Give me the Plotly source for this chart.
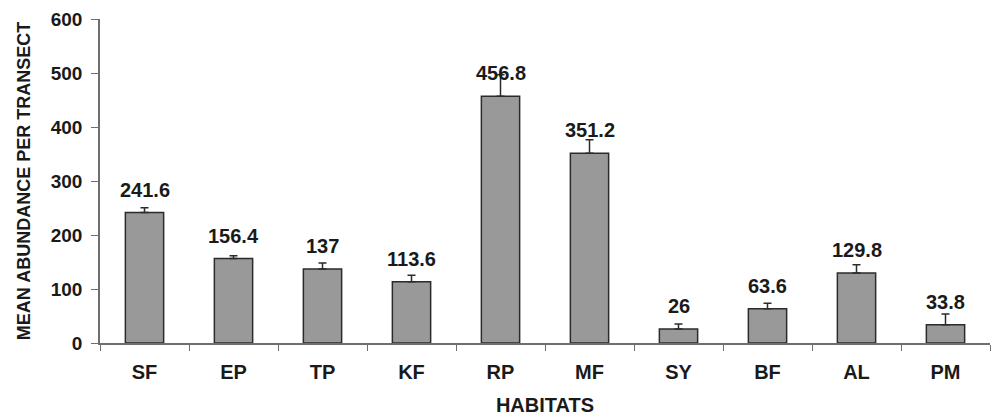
import plotly.graph_objects as go

habitats = ["SF", "EP", "TP", "KF", "RP", "MF", "SY", "BF", "AL", "PM"]
mean_abundance = [241.6, 156.4, 137, 113.6, 456.8, 351.2, 26, 63.6, 129.8, 33.8]
error_plus = [9, 5, 11, 12, 40, 25, 9, 10, 15, 20]
value_labels = ["241.6", "156.4", "137", "113.6", "456.8", "351.2", "26", "63.6", "129.8", "33.8"]
y_ticks = [0, 100, 200, 300, 400, 500, 600]

FONT = "Liberation Sans, Arial, sans-serif"
TXT = "#1a1a1a"

fig = go.Figure()
fig.add_trace(go.Bar(
    x=habitats,
    y=mean_abundance,
    marker=dict(color="#999999", line=dict(color="#2b2b2b", width=1.5)),
    error_y=dict(type="data", array=error_plus, arrayminus=[0] * len(habitats),
                 symmetric=False, color="#2b2b2b", thickness=1.5, width=4),
    showlegend=False,
    hoverinfo="x+y",
))

for h, v, t in zip(habitats, mean_abundance, value_labels):
    fig.add_annotation(x=h, y=v, text="<b>%s</b>" % t, showarrow=False,
                       yanchor="bottom", yshift=10,
                       font=dict(family=FONT, size=20, color=TXT))

fig.update_layout(
    width=1002, height=417,
    margin=dict(l=100, r=12, t=19, b=74),
    paper_bgcolor="white", plot_bgcolor="white",
    bargap=0.57,
    font=dict(family=FONT, color=TXT),
)
fig.update_xaxes(
    type="category", automargin=False,
    showline=True, linecolor="#6e6e6e", linewidth=1.5,
    ticks="outside", tickson="boundaries", ticklen=6, tickcolor="#6e6e6e", tickwidth=1.2,
    ticklabelstandoff=10,
    tickfont=dict(family=FONT, size=20, color=TXT),
    ticktext=["<b>%s</b>" % h for h in habitats], tickvals=habitats,
    title=dict(text="<b>HABITATS</b>", font=dict(family=FONT, size=20, color=TXT), standoff=16),
    showgrid=False, zeroline=False,
)
fig.update_yaxes(
    range=[0, 600], automargin=False,
    tickvals=y_ticks, ticktext=["<b>%d</b>" % t for t in y_ticks],
    showline=True, linecolor="#6e6e6e", linewidth=1.5,
    ticks="outside", ticklen=7, tickcolor="#6e6e6e", tickwidth=1.2,
    ticklabelstandoff=5,
    tickfont=dict(family=FONT, size=19, color=TXT),
    title=dict(text="<b>MEAN ABUNDANCE PER TRANSECT</b>", font=dict(family=FONT, size=18, color=TXT), standoff=15),
    showgrid=False, zeroline=False,
)

fig.write_html("out.html", config={"displayModeBar": False},
               post_script="document.body.style.margin='0';document.body.style.padding='0';")
